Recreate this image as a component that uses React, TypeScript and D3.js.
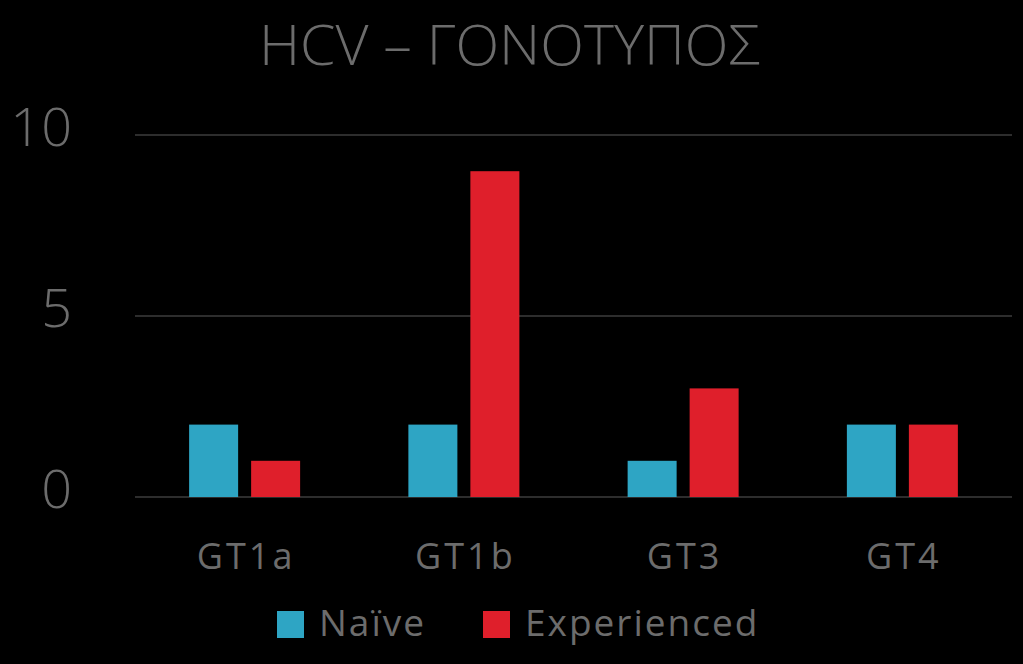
import React from "react";
import * as d3 from "d3";

const categories = ["GT1a", "GT1b", "GT3", "GT4"];
const naive = [2, 2, 1, 2];
const experienced = [1, 9, 3, 2];
const seriesNames = ["Naïve", "Experienced"];
const yTicks = [0, 5, 10];
const title = "HCV – ΓΟΝΟΤΥΠΟΣ";

const colors = ["#2EA5C4", "#DF1F2B"];
const textColor = "#6C6C6C";
const font = "'Open Sans', 'DejaVu Sans', sans-serif";

export default function App() {
  const W = 1023;
  const H = 664;
  const left = 135;
  const right = 1012;
  const top = 135;
  const bottom = 497;

  const x = d3.scaleBand<string>().domain(categories).range([left, right]).paddingInner(0).paddingOuter(0);
  const y = d3.scaleLinear().domain([0, 10]).range([bottom, top]);
  const barW = 49;
  const gap = 13;
  const series = [naive, experienced];

  return (
    <div style={{ position: "fixed", left: 0, top: 0, width: W, height: H, background: "#000" }}>
      <svg width={W} height={H} style={{ display: "block" }}>
        <rect x={0} y={0} width={W} height={H} fill="#000" />
        <text
          x={(259 + 760) / 2}
          y={65}
          textAnchor="middle"
          fill={textColor}
          fontFamily={font}
          fontSize={55}
          fontWeight={300}
          textLength={501}
          lengthAdjust="spacingAndGlyphs"
        >
          {title}
        </text>
        {yTicks.map((t) => (
          <g key={t}>
            <line x1={left} x2={right} y1={y(t)} y2={y(t)} stroke="#5a5a5a" strokeWidth={1.2} />
            <text
              x={72}
              y={y(t) + 11}
              textAnchor="end"
              fill={textColor}
              fontFamily={font}
              fontSize={54}
              fontWeight={300}
            >
              {t}
            </text>
          </g>
        ))}
        {categories.map((c, i) => {
          const cx = (x(c) as number) + x.bandwidth() / 2;
          const starts = [cx - gap / 2 - barW, cx + gap / 2];
          return (
            <g key={c}>
              {series.map((s, k) => (
                <rect
                  key={k}
                  x={starts[k]}
                  y={y(s[i])}
                  width={barW}
                  height={y(0) - y(s[i])}
                  fill={colors[k]}
                />
              ))}
              <text
                x={cx + 1.5}
                y={569}
                textAnchor="middle"
                fill={textColor}
                fontFamily={font}
                fontSize={36}
                letterSpacing={3}
              >
                {c}
              </text>
            </g>
          );
        })}
        {seriesNames.map((n, k) => {
          const sx = [277, 483][k];
          return (
            <g key={n}>
              <rect x={sx} y={611} width={27} height={27} fill={colors[k]} />
              <text
                x={sx + 42}
                y={636}
                fill={textColor}
                fontFamily={font}
                fontSize={37}
                letterSpacing={2}
              >
                {n}
              </text>
            </g>
          );
        })}
      </svg>
    </div>
  );
}
